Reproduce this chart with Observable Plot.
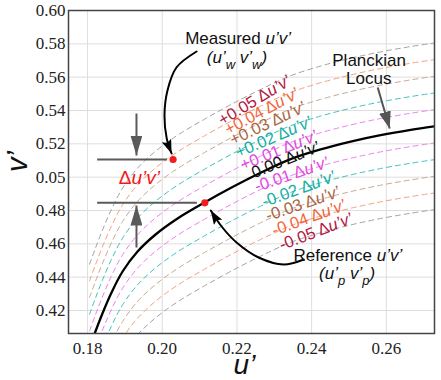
<!DOCTYPE html>
<html><head><meta charset="utf-8">
<script src="https://cdn.jsdelivr.net/npm/d3@7"></script>
<script src="https://cdn.jsdelivr.net/npm/@observablehq/plot@0.6"></script>
<style>
html,body{margin:0;padding:0;background:#fff;}
</style>
</head><body><div id="chart"></div>
<script>
// Planckian locus (u', v')
const locusU = [0.18054,0.18201,0.18388,0.18630,0.18938,0.19339,0.19822,0.20411,0.21134,0.21831,0.22634,0.23438,0.24242,0.25045,0.25849,0.26653,0.27457];
const locusV = [0.39780,0.40680,0.41760,0.43020,0.44340,0.45540,0.46560,0.47520,0.48480,0.49344,0.50262,0.51084,0.51666,0.52134,0.52518,0.52836,0.53106];

// Δu'v' offsets of the dashed lines
const duvSteps = [0.01, 0.02, 0.03, 0.04, 0.05];
const lineColors = ["#f07ef0", "#3ec4ba", "#c6aa92", "#f5a07e", "#a3a3a3"];
const labelColors = ["#e04ae0", "#15ada2", "#a9653f", "#f0663a", "#b3173f"];

// Dashed-line labels
const labelText = ["+0.05 Δu’v’","+0.04 Δu’v’","+0.03 Δu’v’","+0.02 Δu’v’","+0.01 Δu’v’","0.00 Δu’v’","-0.01 Δu’v’","-0.02 Δu’v’","-0.03 Δu’v’","-0.04 Δu’v’","-0.05 Δu’v’"];
const labelDuv = [0.05,0.04,0.03,0.02,0.01,0,-0.01,-0.02,-0.03,-0.04,-0.05];
const labelU = [0.2247,0.2266,0.2282,0.2298,0.2312,0.2330,0.2346,0.2365,0.2376,0.2392,0.2411];
const labelV = [0.5460,0.5394,0.5322,0.5240,0.5160,0.5104,0.5016,0.4928,0.4840,0.4756,0.4672];
const labelAngle = [-31,-28,-25,-23,-22,-22,-19,-20,-19,-20,-21];

// Points
const pointName = ["Measured", "Reference"];
const pointU = [0.2029, 0.2114];
const pointV = [0.5106, 0.4846];

// Axis ticks
const xTicks = [0.18, 0.20, 0.22, 0.24, 0.26];
const xTickLabels = ["0.18", "0.20", "0.22", "0.24", "0.26"];
const yTicks = [0.42, 0.44, 0.46, 0.48, 0.50, 0.52, 0.54, 0.56, 0.58, 0.60];
const yTickLabels = ["0.42", "0.44", "0.46", "0.48", "0.05", "0.52", "0.54", "0.56", "0.58", "0.60"];

// Annotation geometry (data coordinates)
const helperX1 = 0.1827;
const helperX2 = [0.2014, 0.2094];
const deltaArrowU = 0.1931;
const deltaArrowV = [[0.5382, 0.5130], [0.4578, 0.4830]];
const measuredArrowU = [0.2092, 0.2038, 0.2014, 0.2006, 0.2012, 0.2025];
const measuredArrowV = [0.5754, 0.5658, 0.5520, 0.5370, 0.5232, 0.5142];
const referenceArrowU = [0.2379, 0.2325, 0.2258, 0.2199, 0.2159, 0.2130];
const referenceArrowV = [0.4506, 0.4476, 0.4518, 0.4608, 0.4704, 0.4800];
const locusArrow = {u1: 0.2577, v1: 0.5538, u2: 0.2609, v2: 0.5292};

const noteText = ["Measured u’v’", "(u’w v’w)", "Planckian", "Locus", "Reference u’v’", "(u’p v’p)", "Δu’v’"];
const noteU = [0.2203, 0.2200, 0.2554, 0.2553, 0.2497, 0.2495, 0.1939];
const noteV = [0.5802, 0.5688, 0.5670, 0.5562, 0.4500, 0.4392, 0.4998];
const noteColor = ["#111", "#111", "#111", "#111", "#111", "#111", "#f01818"];
const noteAnchor = ["bottom", "bottom", "bottom", "bottom", "bottom", "bottom", "middle"];

// ---- build tables ----
const locus = locusU.map((u, i) => ({u, v: locusV[i]}));
const dashed = [];
duvSteps.forEach((s, k) => {
  [s, -s].forEach(d => {
    locus.forEach(p => dashed.push({u: p.u, v: p.v + d, d, color: lineColors[k]}));
  });
});
const labelColorOf = d => d === 0 ? "#111" : labelColors[duvSteps.findIndex(s => Math.abs(s - Math.abs(d)) < 1e-9)];
const labels = labelText.map((t, i) => ({t, u: labelU[i], v: labelV[i], a: labelAngle[i], c: labelColorOf(labelDuv[i])}));
const points = pointName.map((n, i) => ({n, u: pointU[i], v: pointV[i]}));
const helpers = points.map((p, i) => ({v: p.v, x1: helperX1, x2: helperX2[i]}));
const deltaArrows = deltaArrowV.map(([a, b]) => ({x1: deltaArrowU, y1: a, x2: deltaArrowU, y2: b}));
const measuredArrow = measuredArrowU.map((u, i) => ({u, v: measuredArrowV[i]}));
const referenceArrow = referenceArrowU.map((u, i) => ({u, v: referenceArrowV[i]}));
const notes = noteText.map((t, i) => ({t, u: noteU[i], v: noteV[i], c: noteColor[i], la: noteAnchor[i]}));

function head(len, wid, notch) {
  return (color) => {
    const m = d3.create("svg:marker")
      .attr("viewBox", `${-len} ${-wid / 2} ${len} ${wid}`)
      .attr("markerWidth", len).attr("markerHeight", wid)
      .attr("markerUnits", "userSpaceOnUse")
      .attr("refX", 0).attr("refY", 0)
      .attr("orient", "auto");
    m.append("path")
      .attr("d", `M${-len},${-wid / 2}L0,0L${-len},${wid / 2}L${-len * notch},0Z`)
      .attr("fill", color).attr("stroke", "none");
    return m.node();
  };
}
const fmt = (ticks, labs) => d => labs[ticks.findIndex(t => Math.abs(t - d) < 1e-9)];
const serif = "Liberation Serif";

const plot = Plot.plot({
  width: 441, height: 380,
  marginLeft: 68, marginRight: 7, marginTop: 10, marginBottom: 47,
  x: {domain: [0.1749, 0.2729]},
  y: {domain: [0.4062, 0.60]},
  style: {fontFamily: "'Liberation Sans', Arial, sans-serif", fontSize: "15px", color: "#222", background: "#fff", overflow: "visible"},
  marks: [
    Plot.gridX(xTicks, {stroke: "#dedede", strokeOpacity: 1}),
    Plot.gridY(yTicks, {stroke: "#dedede", strokeOpacity: 1}),
    Plot.axisX(xTicks, {tickSize: 0, tickPadding: 8, tickFormat: fmt(xTicks, xTickLabels), label: null, fontSize: 17, fontFamily: serif}),
    Plot.axisY(yTicks, {tickSize: 0, tickPadding: 3, tickFormat: fmt(yTicks, yTickLabels), label: null, fontSize: 17, fontFamily: serif}),
    Plot.line(dashed, {x: "u", y: "v", z: "d", stroke: "color", strokeWidth: 1, strokeDasharray: "5,4", curve: "catmull-rom", clip: true}),
    Plot.line(locus, {x: "u", y: "v", stroke: "#000", strokeWidth: 2.3, curve: "catmull-rom", clip: true}),
    Plot.ruleY(helpers, {y: "v", x1: "x1", x2: "x2", stroke: "#5a5a5a", strokeWidth: 2}),
    Plot.link(deltaArrows, {x1: "x1", y1: "y1", x2: "x2", y2: "y2", stroke: "#5a5a5a", strokeWidth: 2, markerEnd: head(20, 12, 1)}),
    Plot.link([locusArrow], {x1: "u1", y1: "v1", x2: "u2", y2: "v2", stroke: "#555", strokeWidth: 2, markerEnd: head(17, 12, 1)}),
    Plot.line(measuredArrow, {x: "u", y: "v", stroke: "#000", strokeWidth: 2, curve: "catmull-rom", markerEnd: head(14, 10, 0.8)}),
    Plot.line(referenceArrow, {x: "u", y: "v", stroke: "#000", strokeWidth: 2, curve: "catmull-rom", markerEnd: head(14, 10, 0.8)}),
    Plot.dot(points, {x: "u", y: "v", r: 3.6, fill: "#f21d1d", stroke: "none"}),
    Plot.text(labels, {x: "u", y: "v", text: "t", rotate: "a", fill: "c", fontSize: 16.5, textAnchor: "middle", lineAnchor: "middle"}),
    Plot.text(notes.filter(n => n.la === "bottom"), {x: "u", y: "v", text: "t", fill: "c", fontSize: 17, textAnchor: "middle", lineAnchor: "bottom"}),
    Plot.text(notes.filter(n => n.la === "middle"), {x: "u", y: "v", text: "t", fill: "c", fontSize: 19, textAnchor: "middle", lineAnchor: "middle"}),
    Plot.text(["u’"], {frameAnchor: "bottom", dx: -7, dy: 40, lineAnchor: "bottom", fontSize: 28, fontStyle: "italic", fill: "#111"}),
    Plot.text(["v’"], {frameAnchor: "left", dx: -51, dy: 0, rotate: -90, lineAnchor: "middle", fontSize: 29, fontStyle: "italic", fill: "#111"}),
    Plot.frame({stroke: "#444", strokeWidth: 1.5})
  ]
});
document.getElementById("chart").appendChild(plot);

// rich text: italics and subscripts
const I = {i: true}, S = {i: true, sub: true};
const rich = {
  "Measured u’v’": [["Measured ", {}], ["u’v’", I]],
  "(u’w v’w)": [["(u’", I], ["w", S], [" v’", I], ["w", S], [")", I]],
  "Reference u’v’": [["Reference ", {}], ["u’v’", I]],
  "(u’p v’p)": [["(u’", I], ["p", S], [" v’", I], ["p", S], [")", I]],
  "Δu’v’": [["Δ", {}], ["u’v’", I]]
};
labelText.forEach(t => { const [a] = t.split(" "); rich[t] = [[a + " Δ", {}], ["u’v’", I]]; });
d3.select(plot).selectAll("text").each(function () {
  const segs = rich[this.textContent];
  if (!segs) return;
  this.textContent = "";
  let shifted = false;
  for (const [t, o] of segs) {
    const ts = d3.select(this).append("tspan").text(t);
    if (o.i) ts.attr("font-style", "italic");
    if (o.sub) { ts.attr("dy", 6).attr("font-size", 13); shifted = true; }
    else if (shifted) { ts.attr("dy", -6); shifted = false; }
  }
});
</script>
</body></html>
